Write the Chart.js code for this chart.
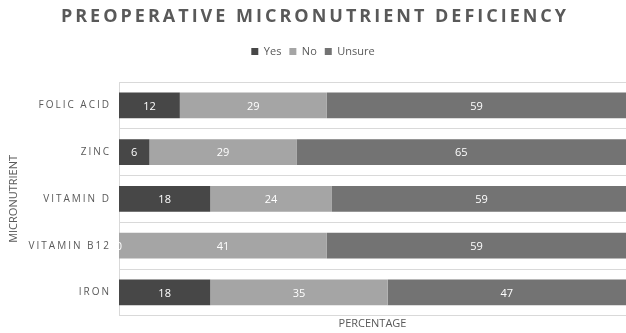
<!DOCTYPE html>
<html>
<head>
<meta charset="utf-8">
<script src="https://cdn.jsdelivr.net/npm/chart.js@4"></script>
<style>
  html, body { margin: 0; padding: 0; background: #fff; }
  #wrap { width: 626px; height: 333px; position: relative; }
</style>
</head>
<body>
<div id="wrap"><canvas id="chart"></canvas></div>
<script>
const chartTitle = "PREOPERATIVE MICRONUTRIENT DEFICIENCY";
const categories = ["FOLIC ACID", "ZINC", "VITAMIN D", "VITAMIN B12", "IRON"];
const yesValues = [12, 6, 18, 0, 18];
const noValues = [29, 29, 24, 41, 35];
const unsureValues = [59, 65, 59, 59, 47];

const textColor = "#595959";
const fontFamily = "'Open Sans', sans-serif";

// Title and category labels are letter-spaced, so draw them by hand
const spacedText = {
  id: "spacedText",
  afterDraw(chart) {
    const ctx = chart.ctx;
    const yScale = chart.scales.y;
    ctx.save();
    ctx.fillStyle = textColor;
    ctx.textBaseline = "middle";

    ctx.font = "bold 18px " + fontFamily;
    ctx.letterSpacing = "3px";
    ctx.textAlign = "center";
    ctx.fillText(chartTitle, chart.width / 2 + 2, 17);

    ctx.font = "10px " + fontFamily;
    ctx.letterSpacing = "2px";
    ctx.textAlign = "right";
    categories.forEach((label, i) => {
      ctx.fillText(label, yScale.right - 8, yScale.getPixelForValue(i));
    });
    ctx.restore();
  },
};

// more room under the legend
const legendGap = {
  id: "legendGap",
  beforeInit(chart) {
    const fit = chart.legend.fit;
    chart.legend.fit = function () {
      fit.bind(chart.legend)();
      this.height += 15;
    };
  },
};

// White value labels in the middle of each segment
const barLabels = {
  id: "barLabels",
  afterDatasetsDraw(chart) {
    const ctx = chart.ctx;
    ctx.save();
    ctx.fillStyle = "#ffffff";
    ctx.font = "11px " + fontFamily;
    ctx.textAlign = "center";
    ctx.textBaseline = "middle";
    chart.data.datasets.forEach((ds, di) => {
      const meta = chart.getDatasetMeta(di);
      meta.data.forEach((bar, i) => {
        const p = bar.getProps(["x", "y", "base"], true);
        ctx.fillText(String(ds.data[i]), (p.x + p.base) / 2, p.y + 1);
      });
    });
    ctx.restore();
  },
};

new Chart(document.getElementById("chart"), {
  type: "bar",
  data: {
    labels: categories,
    datasets: [
      { label: "Yes", data: yesValues, backgroundColor: "#474747" },
      { label: "No", data: noValues, backgroundColor: "#a5a5a5" },
      { label: "Unsure", data: unsureValues, backgroundColor: "#737373" },
    ],
  },
  options: {
    indexAxis: "y",
    responsive: true,
    maintainAspectRatio: false,
    animation: false,
    layout: { padding: { top: 38, right: 0, left: 0, bottom: 0 } },
    datasets: {
      bar: { categoryPercentage: 1, barPercentage: 0.55 },
    },
    scales: {
      x: {
        stacked: true,
        min: 0,
        max: 100,
        ticks: { display: false },
        grid: { display: false, drawTicks: false },
        border: { display: false },
        title: {
          display: true,
          text: "PERCENTAGE",
          color: textColor,
          font: { family: fontFamily, size: 11 },
          padding: { top: 1, bottom: 3 },
        },
      },
      y: {
        stacked: true,
        ticks: { display: false },
        grid: { color: "#d9d9d9", drawTicks: false, offset: true },
        border: { display: true, color: "#d9d9d9" },
        title: {
          display: true,
          text: "MICRONUTRIENT",
          color: textColor,
          font: { family: fontFamily, size: 11 },
          padding: { top: 7, bottom: 0 },
        },
        afterFit(scale) {
          scale.width = 119;
        },
      },
    },
    plugins: {
      legend: {
        position: "top",
        labels: {
          boxWidth: 7,
          boxHeight: 7,
          padding: 8,
          color: textColor,
          font: { family: fontFamily, size: 11 },
        },
      },
      tooltip: { enabled: false },
    },
  },
  plugins: [legendGap, spacedText, barLabels],
});
</script>
</body>
</html>
